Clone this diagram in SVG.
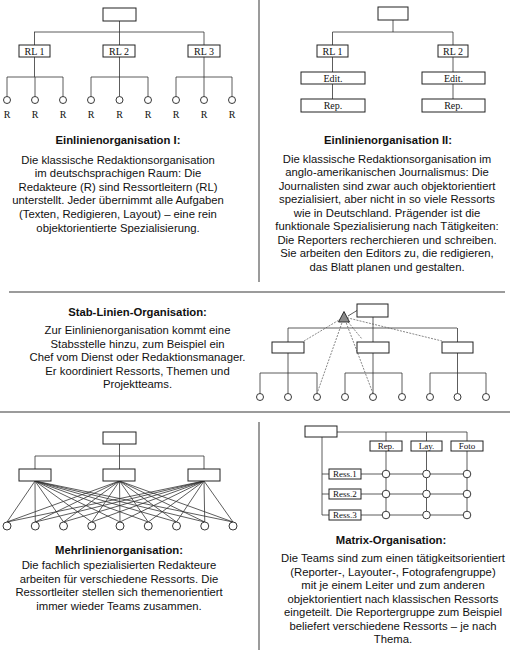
<svg xmlns="http://www.w3.org/2000/svg" width="510" height="650" viewBox="0 0 510 650">
<style>
.bx{fill:#fff;stroke:#222;stroke-width:1}
.ln{stroke:#333;stroke-width:0.8;fill:none}
.dl{stroke:#555;stroke-width:0.7;stroke-dasharray:2,1.2;fill:none}
.nd{fill:#fff;stroke:#222;stroke-width:0.9}
.dv{stroke:#7a7a7a;stroke-width:1.5;fill:none}
.lb{font-family:"Liberation Serif","Times New Roman",serif;font-size:10px;fill:#111;text-anchor:middle}
.lbs{font-family:"Liberation Serif","Times New Roman",serif;font-size:9px;fill:#111;text-anchor:middle}
.tt{font-family:"Liberation Sans",Arial,sans-serif;font-size:11.3px;font-weight:bold;fill:#111;text-anchor:middle}
.tx{font-family:"Liberation Sans",Arial,sans-serif;font-size:11.3px;fill:#111;text-anchor:middle}
</style>
<rect width="510" height="650" fill="#fff"/>
<g id="dividers">
<line class="dv" x1="259" y1="0" x2="259" y2="282"/>
<line class="dv" x1="9" y1="292" x2="505" y2="292"/>
<line class="dv" x1="0" y1="412" x2="510" y2="412"/>
<line class="dv" x1="259" y1="422" x2="259" y2="650"/>
</g>
<g id="connectors">
<!-- top-left -->
<path class="ln" d="M119.5 21V32M34 32H204M34.5 32V45M119.5 32V45M204 32V45M34.5 57V77M119.5 57V77M204 57V77M7 77H63M91 77H148M176 77H232M7 77V96.5M35 77V96.5M63 77V96.5M91 77V96.5M119.5 77V96.5M148 77V96.5M176 77V96.5M204 77V96.5M232 77V96.5"/>
<!-- top-right -->
<path class="ln" d="M393 20V32M332.5 32H453M332.5 32V45M453 32V45M332.5 57V72M453 57V72M332.5 84V99M453 84V99"/>
<!-- stab-linien -->
<path class="ln" d="M373 317V342M288 328H457M288 328V342M457.5 328V342M288 353V373M373 353V373M457.5 353V373M260 373H317M345 373H402M430 373H486M260 373V393.5M288 373V393.5M317 373V393.5M345 373V393.5M373 373V393.5M402 373V393.5M430 373V393.5M457.5 373V393.5M486 373V393.5M348 316L357 310.5"/>
<path class="dl" d="M344 317L304 341M344 317L362 339M344 317L442 341M344 317L317 393.5M344 317L373 393.5"/>
<!-- mehrlinien -->
<path class="ln" d="M119.5 444V456M35 456H204M35 456V469M119.5 456V469M204 456V469"/>
<g class="ln" stroke-width="0.7">
<path d="M35 481L7 522M35 481L35.25 522M35 481L63.5 522M35 481L91.75 522M35 481L120 522M35 481L148.25 522M35 481L176.5 522M35 481L204.75 522M35 481L233 522"/>
<path d="M119.5 481L7 522M119.5 481L35.25 522M119.5 481L63.5 522M119.5 481L91.75 522M119.5 481L120 522M119.5 481L148.25 522M119.5 481L176.5 522M119.5 481L204.75 522M119.5 481L233 522"/>
<path d="M204 481L7 522M204 481L35.25 522M204 481L63.5 522M204 481L91.75 522M204 481L120 522M204 481L148.25 522M204 481L176.5 522M204 481L204.75 522M204 481L233 522"/>
</g>
<!-- matrix -->
<path class="ln" d="M337 432H467M386 432V441M426.5 432V441M467 432V441M386 451V515M426.5 451V515M467 451V515M322 437V515M322 474H329M322 494H329M322 515H329M361 474H467M361 494H467M361 515H467"/>
</g>
<g id="einlinien1">
<rect class="bx" x="103" y="8" width="33" height="13"/>
<g id="rl1a"><rect class="bx" x="19" y="45" width="31" height="12"/><text class="lb" x="34.5" y="54.5">RL 1</text></g>
<g id="rl2a"><rect class="bx" x="103" y="45" width="32" height="12"/><text class="lb" x="119" y="54.5">RL 2</text></g>
<g id="rl3a"><rect class="bx" x="188" y="45" width="32" height="12"/><text class="lb" x="204" y="54.5">RL 3</text></g>
<g id="redakteure">
<circle class="nd" cx="7" cy="100" r="3.5"/><circle class="nd" cx="35" cy="100" r="3.5"/><circle class="nd" cx="63" cy="100" r="3.5"/>
<circle class="nd" cx="91" cy="100" r="3.5"/><circle class="nd" cx="119.5" cy="100" r="3.5"/><circle class="nd" cx="148" cy="100" r="3.5"/>
<circle class="nd" cx="176" cy="100" r="3.5"/><circle class="nd" cx="204" cy="100" r="3.5"/><circle class="nd" cx="232" cy="100" r="3.5"/>
<text class="lb" x="7" y="118">R</text><text class="lb" x="35" y="118">R</text><text class="lb" x="63" y="118">R</text>
<text class="lb" x="91" y="118">R</text><text class="lb" x="119.5" y="118">R</text><text class="lb" x="148" y="118">R</text>
<text class="lb" x="176" y="118">R</text><text class="lb" x="204" y="118">R</text><text class="lb" x="232" y="118">R</text>
</g>
</g>
<g id="einlinien2">
<rect class="bx" x="378" y="7" width="30" height="13"/>
<g id="rl1b"><rect class="bx" x="317" y="45" width="31" height="12"/><text class="lb" x="332.5" y="54.5">RL 1</text></g>
<g id="rl2b"><rect class="bx" x="438" y="45" width="30" height="12"/><text class="lb" x="453" y="54.5">RL 2</text></g>
<g id="edit1"><rect class="bx" x="301" y="72" width="64" height="12"/><text class="lb" x="333" y="81.5">Edit.</text></g>
<g id="edit2"><rect class="bx" x="422" y="72" width="63" height="12"/><text class="lb" x="453.5" y="81.5">Edit.</text></g>
<g id="rep1"><rect class="bx" x="301" y="99" width="64" height="13"/><text class="lb" x="333" y="109">Rep.</text></g>
<g id="rep2"><rect class="bx" x="422" y="99" width="63" height="13"/><text class="lb" x="453.5" y="109">Rep.</text></g>
</g>
<g id="stablinien">
<rect class="bx" x="357" y="304" width="31" height="13"/>
<polygon points="344,311.5 338.5,322 349.5,322" fill="#8a8a8a" stroke="#222" stroke-width="0.9"/>
<rect class="bx" x="272" y="342" width="32" height="11"/>
<rect class="bx" x="357" y="342" width="32" height="11"/>
<rect class="bx" x="442" y="342" width="31" height="11"/>
<circle class="nd" cx="260" cy="397" r="3.5"/><circle class="nd" cx="288" cy="397" r="3.5"/><circle class="nd" cx="317" cy="397" r="3.5"/>
<circle class="nd" cx="345" cy="397" r="3.5"/><circle class="nd" cx="373" cy="397" r="3.5"/><circle class="nd" cx="402" cy="397" r="3.5"/>
<circle class="nd" cx="430" cy="397" r="3.5"/><circle class="nd" cx="457.5" cy="397" r="3.5"/><circle class="nd" cx="486" cy="397" r="3.5"/>
</g>
<g id="mehrlinien">
<rect class="bx" x="103" y="432" width="33" height="12"/>
<rect class="bx" x="19" y="469" width="32" height="12"/>
<rect class="bx" x="103" y="469" width="32" height="12"/>
<rect class="bx" x="188" y="469" width="32" height="12"/>
<circle class="nd" cx="7" cy="526" r="4"/><circle class="nd" cx="35.25" cy="526" r="4"/><circle class="nd" cx="63.5" cy="526" r="4"/>
<circle class="nd" cx="91.75" cy="526" r="4"/><circle class="nd" cx="120" cy="526" r="4"/><circle class="nd" cx="148.25" cy="526" r="4"/>
<circle class="nd" cx="176.5" cy="526" r="4"/><circle class="nd" cx="204.75" cy="526" r="4"/><circle class="nd" cx="233" cy="526" r="4"/>
</g>
<g id="matrix">
<rect class="bx" x="305" y="426" width="32" height="11"/>
<g id="mrep"><rect class="bx" x="370" y="441" width="32" height="10"/><text class="lbs" x="386" y="449">Rep.</text></g>
<g id="mlay"><rect class="bx" x="411" y="441" width="31" height="10"/><text class="lbs" x="426.5" y="449">Lay.</text></g>
<g id="mfoto"><rect class="bx" x="451" y="441" width="32" height="10"/><text class="lbs" x="467" y="449">Foto</text></g>
<g id="ress1"><rect class="bx" x="329" y="469" width="32" height="10"/><text class="lbs" x="345" y="477">Ress.1</text></g>
<g id="ress2"><rect class="bx" x="329" y="489" width="32" height="10"/><text class="lbs" x="345" y="497">Ress.2</text></g>
<g id="ress3"><rect class="bx" x="329" y="510" width="32" height="10"/><text class="lbs" x="345" y="518">Ress.3</text></g>
<circle class="nd" cx="386" cy="474" r="3.8"/><circle class="nd" cx="426.5" cy="474" r="3.8"/><circle class="nd" cx="467" cy="474" r="3.8"/>
<circle class="nd" cx="386" cy="494" r="3.8"/><circle class="nd" cx="426.5" cy="494" r="3.8"/><circle class="nd" cx="467" cy="494" r="3.8"/>
<circle class="nd" cx="386" cy="515" r="3.8"/><circle class="nd" cx="426.5" cy="515" r="3.8"/><circle class="nd" cx="467" cy="515" r="3.8"/>
</g>
<g id="text1">
<text class="tt" x="118" y="144">Einlinienorganisation I:</text>
<text class="tx" x="118" y="163.5">Die klassische Redaktionsorganisation</text>
<text class="tx" x="118" y="177.1">im deutschsprachigen Raum: Die</text>
<text class="tx" x="118" y="190.7">Redakteure (R) sind Ressortleitern (RL)</text>
<text class="tx" x="118" y="204.3">unterstellt. Jeder übernimmt alle Aufgaben</text>
<text class="tx" x="118" y="217.9">(Texten, Redigieren, Layout) – eine rein</text>
<text class="tx" x="118" y="231.5">objektorientierte Spezialisierung.</text>
</g>
<g id="text2">
<text class="tt" x="388" y="144">Einlinienorganisation II:</text>
<text class="tx" x="387" y="162.5">Die klassische Redaktionsorganisation im</text>
<text class="tx" x="387" y="176">anglo-amerikanischen Journalismus: Die</text>
<text class="tx" x="387" y="189.5">Journalisten sind zwar auch objektorientiert</text>
<text class="tx" x="387" y="203">spezialisiert, aber nicht in so viele Ressorts</text>
<text class="tx" x="387" y="216.5">wie in Deutschland. Prägender ist die</text>
<text class="tx" x="387" y="230">funktionale Spezialisierung nach Tätigkeiten:</text>
<text class="tx" x="387" y="243.5">Die Reporters recherchieren und schreiben.</text>
<text class="tx" x="387" y="257">Sie arbeiten den Editors zu, die redigieren,</text>
<text class="tx" x="387" y="270.5">das Blatt planen und gestalten.</text>
</g>
<g id="text3">
<text class="tt" x="137.5" y="316">Stab-Linien-Organisation:</text>
<text class="tx" x="137.5" y="334">Zur Einlinienorganisation kommt eine</text>
<text class="tx" x="137.5" y="347.5">Stabsstelle hinzu, zum Beispiel ein</text>
<text class="tx" x="137.5" y="361">Chef vom Dienst oder Redaktionsmanager.</text>
<text class="tx" x="137.5" y="374.5">Er koordiniert Ressorts, Themen und</text>
<text class="tx" x="137.5" y="388">Projektteams.</text>
</g>
<g id="text4">
<text class="tt" x="119" y="554">Mehrlinienorganisation:</text>
<text class="tx" x="119" y="569">Die fachlich spezialisierten Redakteure</text>
<text class="tx" x="119" y="582.5">arbeiten für verschiedene Ressorts. Die</text>
<text class="tx" x="119" y="596">Ressortleiter stellen sich themenorientiert</text>
<text class="tx" x="119" y="609.5">immer wieder Teams zusammen.</text>
</g>
<g id="text5">
<text class="tt" x="391" y="544">Matrix-Organisation:</text>
<text class="tx" x="393" y="562.3">Die Teams sind zum einen tätigkeitsorientiert</text>
<text class="tx" x="393" y="575.8">(Reporter-, Layouter-, Fotografengruppe)</text>
<text class="tx" x="393" y="589.3">mit je einem Leiter und zum anderen</text>
<text class="tx" x="393" y="602.8">objektorientiert nach klassischen Ressorts</text>
<text class="tx" x="393" y="616.3">eingeteilt. Die Reportergruppe zum Beispiel</text>
<text class="tx" x="393" y="629.8">beliefert verschiedene Ressorts – je nach</text>
<text class="tx" x="393" y="643.3">Thema.</text>
</g>
</svg>
